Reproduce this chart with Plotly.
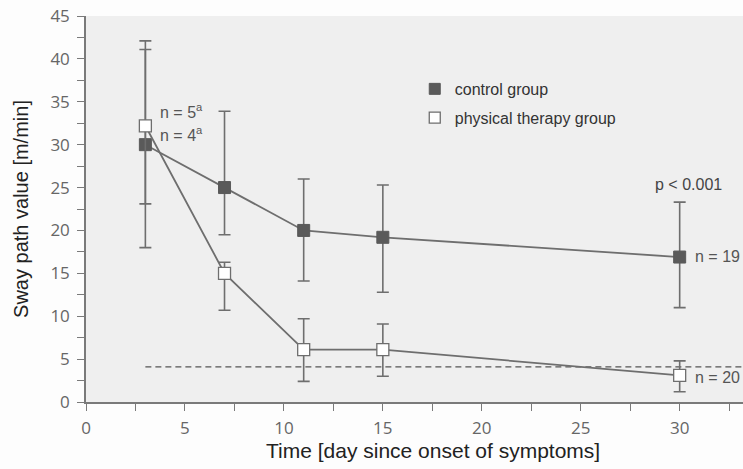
import plotly.graph_objects as go

days = [3, 7, 11, 15, 30]
control_mean = [30, 25, 20, 19.2, 16.9]
control_upper = [41.1, 33.9, 26.0, 25.3, 23.3]
control_lower = [18.0, 19.5, 14.1, 12.8, 11.0]
therapy_mean = [32.2, 15.0, 6.1, 6.1, 3.1]
therapy_upper = [42.1, 16.3, 9.7, 9.1, 4.8]
therapy_lower = [23.1, 10.7, 2.4, 3.0, 1.2]
ref_x = [3, 33.2]
ref_y = [4.1, 4.1]

x_ticks = [0, 5, 10, 15, 20, 25, 30]
y_ticks = [0, 5, 10, 15, 20, 25, 30, 35, 40, 45]

grey = "#6e6e6e"
fig = go.Figure()

fig.add_trace(go.Scatter(x=ref_x, y=ref_y, mode="lines",
                         line=dict(color="#555", width=1.2, dash="6px,4px"),
                         showlegend=False, hoverinfo="skip"))

def err(mean, up, lo):
    return dict(type="data", symmetric=False,
                array=[u - m for u, m in zip(up, mean)],
                arrayminus=[m - l for m, l in zip(mean, lo)],
                color=grey, thickness=1.6, width=6)

fig.add_trace(go.Scatter(x=days, y=control_mean, mode="lines+markers",
                         line=dict(color=grey, width=1.8),
                         marker=dict(symbol="square", size=12, color="#5a5a5a",
                                     line=dict(color="#5a5a5a", width=1)),
                         error_y=err(control_mean, control_upper, control_lower),
                         showlegend=False))
fig.add_trace(go.Scatter(x=days, y=therapy_mean, mode="lines+markers",
                         line=dict(color=grey, width=1.8),
                         marker=dict(symbol="square", size=12, color="white",
                                     line=dict(color=grey, width=1.3)),
                         error_y=err(therapy_mean, therapy_upper, therapy_lower),
                         showlegend=False))

# legend entries
fig.add_trace(go.Scatter(x=[None], y=[None], mode="markers", name="control group",
                         legendgroup="a",
                         marker=dict(symbol="square", size=11, color="#5a5a5a",
                                     line=dict(color="#5a5a5a", width=1))))
fig.add_trace(go.Scatter(x=[None], y=[None], mode="markers", name="physical therapy group",
                         legendgroup="b",
                         marker=dict(symbol="square", size=11, color="white",
                                     line=dict(color=grey, width=1.3))))

ann_font = dict(family="Liberation Sans", size=16, color="#555")
annotations = [
    dict(x=3.65, y=33.9, text="n = 5<sup>a</sup>", xanchor="left", yanchor="middle"),
    dict(x=3.65, y=31.3, text="n = 4<sup>a</sup>", xanchor="left", yanchor="middle"),
    dict(x=30.45, y=25.3, text="p < 0.001", xanchor="center", yanchor="middle",
         font=dict(family="Liberation Sans", size=16, color="#444")),
    dict(x=30.65, y=17.0, text="n = 19", xanchor="left", yanchor="middle"),
    dict(x=30.65, y=2.9, text="n = 20", xanchor="left", yanchor="middle"),
]
for a in annotations:
    a.setdefault("font", ann_font)
    a.update(xref="x", yref="y", showarrow=False)

annotations.append(dict(text="Time [day since onset of symptoms]", xref="paper", yref="paper",
                        x=0.528, y=-0.125, xanchor="center", yanchor="middle",
                        showarrow=False,
                        font=dict(family="Liberation Sans", size=21, color="#222")))

axis_common = dict(showgrid=False, zeroline=False, showline=True, linecolor="#7a7a7a",
                   linewidth=1.5, ticks="outside", ticklen=7, tickwidth=1.3,
                   tickcolor="#7a7a7a",
                   tickfont=dict(family="Open Sans", size=17, color="#666"))

fig.update_layout(
    width=743, height=469,
    margin=dict(l=86, r=0, t=16, b=67),
    paper_bgcolor="#fdfdfd", plot_bgcolor="#efefef",
    xaxis=dict(range=[0, 33.2], tickvals=x_ticks, ticklabelstandoff=3,
               minor=dict(dtick=2.5, tick0=0, ticks="outside", ticklen=7,
                          tickcolor="#7a7a7a", tickwidth=1.3),
               **axis_common),
    yaxis=dict(range=[0, 45], tickvals=y_ticks, ticklabelstandoff=4,
               minor=dict(dtick=2.5, tick0=0, ticks="outside", ticklen=7,
                          tickcolor="#7a7a7a", tickwidth=1.3),
               title=dict(text="Sway path value [m/min]", standoff=16,
                          font=dict(family="Liberation Sans", size=20, color="#222")),
               **axis_common),
    legend=dict(x=0.5004, y=0.855, xanchor="left", yanchor="top",
                bgcolor="rgba(0,0,0,0)", traceorder="grouped", tracegroupgap=5,
                font=dict(family="Liberation Sans", size=16, color="#333")),
    annotations=annotations,
)

fig.write_html("out.html")
